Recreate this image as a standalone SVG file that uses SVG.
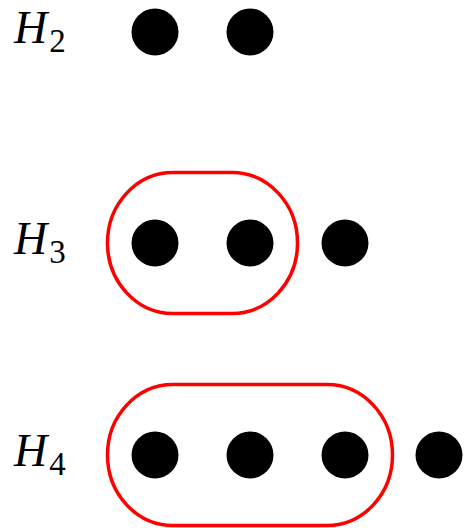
<svg xmlns="http://www.w3.org/2000/svg" width="465" height="528" viewBox="0 0 465 528">
<style>
.lbl{font-family:"Liberation Serif","DejaVu Serif",serif;font-style:italic;font-size:46px;fill:#000}
.sub{font-family:"Liberation Serif","DejaVu Serif",serif;font-style:normal;font-size:33px;fill:#000}
.dot{fill:#000}
.grp{fill:none;stroke:#ff0000;stroke-width:3.5}
</style>
<rect width="465" height="528" fill="#fff"/>
<g id="row-h2">
<text class="lbl" x="14" y="43">H<tspan class="sub" dx="2" dy="9">2</tspan></text>
<circle class="dot" cx="155" cy="32" r="23.5"/>
<circle class="dot" cx="250" cy="32" r="23.5"/>
</g>
<g id="row-h3">
<text class="lbl" x="14" y="254">H<tspan class="sub" dx="2" dy="9">3</tspan></text>
<circle class="dot" cx="155" cy="243" r="23.5"/>
<circle class="dot" cx="250" cy="243" r="23.5"/>
<circle class="dot" cx="345" cy="243" r="23.5"/>
</g>
<g id="row-h4">
<text class="lbl" x="14" y="466">H<tspan class="sub" dx="2" dy="9">4</tspan></text>
<circle class="dot" cx="155" cy="455" r="23.5"/>
<circle class="dot" cx="250" cy="455" r="23.5"/>
<circle class="dot" cx="345" cy="455" r="23.5"/>
<circle class="dot" cx="439" cy="455" r="23.5"/>
</g>
<g id="connectors">
<path class="grp" d="M173,172.5 H232 A65.5,70.5 0 0 1 297.5,243 A65.5,70.5 0 0 1 232,313.5 H173 A65.5,70.5 0 0 1 107.5,243 A65.5,70.5 0 0 1 173,172.5 Z"/>
<path class="grp" d="M173,384.5 H327 A65.5,70.5 0 0 1 392.5,455 A65.5,70.5 0 0 1 327,525.5 H173 A65.5,70.5 0 0 1 107.5,455 A65.5,70.5 0 0 1 173,384.5 Z"/>
</g>
</svg>
